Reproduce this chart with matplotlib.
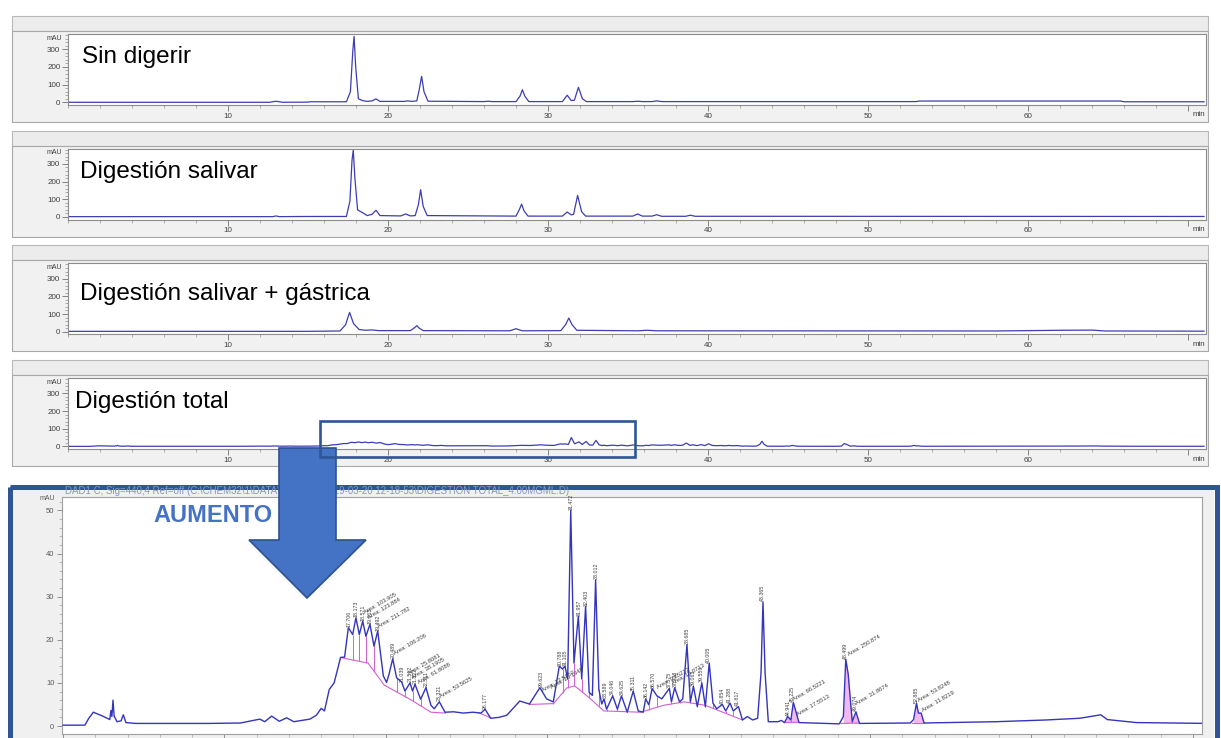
import numpy as np
import matplotlib
matplotlib.use('Agg')
import matplotlib.pyplot as plt
from matplotlib.patches import Rectangle, Polygon
from matplotlib.ticker import MultipleLocator, FixedLocator

plt.rcParams['font.family'] = ['Liberation Sans', 'DejaVu Sans']

# Cromatogramas (tiempo en min, señal en mAU)
sin_t = [0.0, 12.6, 13.0, 13.4, 15.0, 15.1, 17.4, 17.65, 17.8, 17.88,
         17.98, 18.15, 18.4, 18.7, 19.0, 19.25, 19.5, 21.0, 21.25, 21.5,
         21.8, 21.95, 22.1, 22.25, 22.5, 26.0, 26.25, 26.5, 28.0, 28.25,
         28.4, 28.55, 28.8, 30.9, 31.2, 31.45, 31.65, 31.9, 32.15, 32.4,
         35.3, 35.6, 35.9, 36.5, 36.8, 37.1, 53.0, 53.2, 65.8, 66.0,
         71.0]
sin_v = [0, 0, 6, 0, 1, 3, 3, 60, 290, 373,
         200, 20, 10, 5, 8, 19, 5, 5, 8, 5,
         8, 70, 147, 60, 6, 4, 6, 4, 4, 35,
         71, 35, 4, 4, 40, 10, 12, 85, 20, 4,
         4, 6, 4, 4, 8, 4, 4, 7, 7, 3,
         3]

sal_t = [0.0, 12.8, 13.0, 13.2, 15.0, 17.4, 17.62, 17.75, 17.83, 17.93,
         18.1, 18.4, 18.7, 19.0, 19.25, 19.5, 20.8, 21.1, 21.4, 21.7,
         21.9, 22.04, 22.2, 22.45, 28.0, 28.2, 28.35, 28.5, 28.75, 30.9,
         31.2, 31.45, 31.6, 31.85, 32.1, 32.35, 35.3, 35.6, 35.9, 36.5,
         36.8, 37.1, 38.6, 38.9, 39.2, 71.0]
sal_v = [2, 2, 6, 2, 3, 3, 90, 320, 378, 220,
         40, 25, 8, 15, 38, 8, 6, 17, 6, 8,
         70, 154, 60, 8, 5, 40, 73, 35, 5, 5,
         28, 12, 15, 122, 30, 5, 5, 17, 5, 5,
         13, 4, 4, 10, 4, 3]

gas_t = [0.0, 15.0, 17.0, 17.35, 17.6, 17.85, 18.2, 18.6, 19.0, 19.4,
         21.4, 21.65, 21.8, 21.95, 22.2, 27.6, 27.85, 28.0, 28.15, 28.4,
         30.8, 31.1, 31.3, 31.5, 31.8, 35.6, 36.2, 36.8, 58.0, 60.0,
         62.0, 64.0, 64.8, 71.0]
gas_v = [2, 2, 4, 40, 109, 45, 12, 8, 10, 6,
         6, 22, 34, 20, 6, 5, 12, 17, 12, 5,
         6, 40, 77, 40, 8, 5, 8, 5, 4, 6,
         8, 9, 4, 3]

tot_t = [0.0, 1.36, 1.6, 1.88, 2.4, 2.9, 2.97, 3.03, 3.1, 3.17,
         3.35, 3.6, 3.74, 3.9, 4.5, 9.0, 11.0, 12.2, 12.5, 12.93,
         13.4, 13.86, 14.3, 15.3, 15.7, 16.0, 16.2, 16.5, 16.8, 17.2,
         17.45, 17.68, 17.95, 18.15, 18.36, 18.57, 18.77, 19.02, 19.27, 19.5,
         19.85, 20.05, 20.2, 20.43, 20.67, 20.98, 21.19, 21.5, 21.66, 21.81,
         22.16, 22.49, 22.8, 23.0, 23.32, 23.67, 24.2, 24.8, 25.4, 25.9,
         26.15, 26.5, 27.0, 27.5, 28.3, 28.9, 29.55, 29.96, 30.38, 30.75,
         30.95, 31.1, 31.27, 31.46, 31.66, 31.93, 32.14, 32.38, 32.6, 32.8,
         33.0, 33.2, 33.38, 33.52, 33.68, 34.06, 34.35, 34.6, 34.96, 35.33,
         35.64, 35.95, 36.1, 36.3, 36.5, 36.8, 37.1, 37.57, 37.7, 37.9,
         38.2, 38.4, 38.66, 38.87, 39.06, 39.3, 39.58, 39.8, 40.04, 40.27,
         40.5, 40.85, 41.06, 41.33, 41.53, 41.85, 42.1, 42.4, 42.73, 43.04,
         43.25, 43.37, 43.5, 43.7, 44.3, 44.5, 44.7, 44.9, 45.1, 45.25,
         45.5, 45.6, 48.1, 48.35, 48.5, 48.65, 48.9, 49.13, 49.35, 52.5,
         52.7, 52.88, 53.0, 53.17, 53.35, 57.8, 60.9, 63.0, 64.3, 64.7,
         66.5, 71.0]
tot_v = [0.2, 0.2, 1.8, 3.2, 2.4, 1.5, 3.6, 2.2, 6.0, 2.3,
         1.0, 1.2, 2.6, 0.8, 0.6, 0.6, 0.7, 1.6, 1.0, 2.3,
         1.1, 1.9, 1.0, 1.6, 2.5, 4.1, 3.5, 8.5, 10.0, 15.9,
         16.0, 22.8, 21.2, 25.1, 21.2, 24.3, 20.8, 23.6, 18.5, 22.0,
         11.6, 10.1, 12.0, 15.6, 11.2, 10.2, 8.1, 10.0, 8.1, 9.7,
         6.2, 8.9, 4.8, 4.0, 5.6, 3.2, 3.3, 3.0, 3.2, 3.0,
         3.9, 1.8, 2.0, 2.5, 5.8, 5.1, 8.9, 6.3, 5.6, 13.9,
         13.2, 13.9, 10.9, 50.1, 14.6, 25.5, 10.9, 27.8, 7.8, 7.1,
         33.9, 8.5, 5.1, 6.3, 3.9, 7.0, 3.9, 7.0, 3.2, 8.1,
         3.5, 3.2, 6.3, 4.9, 8.7, 7.0, 6.3, 8.7, 5.6, 8.9,
         5.6, 6.3, 18.9, 5.6, 9.2, 4.5, 10.0, 4.5, 14.6, 5.3,
         4.0, 5.0, 3.5, 5.3, 3.5, 4.5, 1.4, 2.2, 1.4, 1.8,
         12.4, 28.8, 12.4, 1.0, 1.0, 1.3, 0.8, 2.2, 1.4, 5.5,
         2.2, 0.8, 0.5, 2.2, 15.5, 12.0, 1.0, 3.3, 0.6, 0.7,
         1.5, 5.3, 3.0, 3.0, 0.7, 1.0, 1.4, 1.8, 2.6, 1.5,
         0.8, 0.6]

nombres = ['Sin digerir', 'Digestión salivar', 'Digestión salivar + gástrica', 'Digestión total']

# lineas base de integracion (magenta)
base_t = [[17.3, 18.9, 19.9, 21.5, 22.8, 23.7],
          [25.8, 26.5],
          [28.9, 30.4, 31.2, 31.7, 32.6, 33.5, 35.8, 37.2, 38.5, 39.8, 42.1],
          [44.7, 45.6],
          [48.2, 49.35],
          [52.6, 53.35]]
base_v = [[15.8, 14.6, 9.5, 6.2, 3.2, 3.0],
          [3.0, 1.9],
          [5.0, 5.2, 8.8, 9.3, 6.6, 3.5, 3.2, 4.8, 5.6, 4.8, 1.4],
          [0.8, 0.9],
          [0.6, 0.7],
          [0.7, 0.7]]
valles = [17.95, 18.36, 18.77, 19.27, 20.67, 21.19, 21.66, 22.16,
          30.38, 30.95, 31.27, 31.66, 32.14, 32.6, 33.2, 33.68, 34.35,
          34.96, 35.64, 36.3, 36.8, 37.7, 38.2, 38.87, 39.3, 39.8, 40.27,
          41.06, 41.53, 45.1, 48.9]

tiempos_ret = [17.706, 18.173, 18.571, 19.013, 19.492, 20.489, 21.039, 21.512,
               21.822, 22.511, 23.321, 26.177, 29.623, 30.788, 31.105, 31.472,
               31.957, 32.403, 33.012, 33.589, 34.046, 34.625, 35.311, 36.142,
               36.570, 37.575, 37.938, 38.685, 39.063, 39.550, 40.005, 40.854,
               41.288, 41.817, 43.365, 44.941, 45.225, 48.499, 49.074, 52.885]

areas_txt = ['Area: 103.905', 'Area: 123.884', 'Area: 211.782', 'Area: 106.206',
             'Area: 25.8081', 'Area: 38.1905', 'Area: 61.8088', 'Area: 53.5625',
             'Area: 12.5157', 'Area: 20.1948', 'Area: 9.85213', 'Area: 15.0713',
             'Area: 66.5221', 'Area: 17.5513', 'Area: 250.874', 'Area: 31.8674',
             'Area: 53.8248', 'Area: 11.8219']
areas_t = [18.75, 19.0, 19.6, 20.6, 21.5, 21.7, 22.1, 23.45, 29.8, 30.3,
           36.9, 37.8, 45.35, 45.55, 48.7, 49.25, 53.05, 53.3]
areas_v = [25.8, 24.6, 22.6, 16.2, 11.6, 10.6, 9.6, 6.2, 7.6, 8.4,
           8.4, 9.4, 5.6, 2.2, 16.0, 4.6, 5.4, 3.0]

W, H = 1221, 738
fig = plt.figure(figsize=(W / 100, H / 100), dpi=100)


def caja(x0, y0, x1, y1):
    # pixeles (origen arriba a la izquierda) -> fraccion de figura
    return [x0 / W, 1 - y1 / H, (x1 - x0) / W, (y1 - y0) / H]


fondo = fig.add_axes([0, 0, 1, 1], zorder=0)
fondo.set_xlim(0, W)
fondo.set_ylim(H, 0)
fondo.axis('off')

frente = fig.add_axes([0, 0, 1, 1], zorder=10)
frente.set_xlim(0, W)
frente.set_ylim(H, 0)
frente.axis('off')

linea = '#3d3db3'
pos_nombre = [(82, 63), (80, 178), (80, 300), (75, 408)]
datos = [(sin_t, sin_v), (sal_t, sal_v), (gas_t, gas_v), (tot_t, tot_v)]
ejes = []

#####################################
# cuatro cromatogramas superiores
#####################################
for i, (t, v) in enumerate(datos):
    yb = 105 + 114.7 * i
    yt = yb - 71
    fondo.add_patch(Rectangle((12, yt - 18), 1196, 15, fc='#ececec', ec='#b8b8b8', lw=0.8))
    fondo.add_patch(Rectangle((12, yt - 3), 1196, 91, fc='#f1f1f1', ec='#a8a8a8', lw=0.8))

    ax = fig.add_axes(caja(68, yt, 1206, yb), zorder=2)
    ax.plot(t, v, color=linea, lw=0.9)
    ax.set_xlim(0, 71.125)
    ax.set_ylim(-15.3, 386)
    for s in ax.spines.values():
        s.set_color('#8c8c8c')
        s.set_linewidth(0.8)
    ax.xaxis.set_major_locator(FixedLocator([10, 20, 30, 40, 50, 60, 70]))
    ax.set_xticklabels(['10', '20', '30', '40', '50', '60', ''])
    ax.xaxis.set_minor_locator(MultipleLocator(2))
    ax.yaxis.set_major_locator(FixedLocator([0, 100, 200, 300]))
    ax.yaxis.set_minor_locator(MultipleLocator(20))
    ax.tick_params(which='major', direction='out', length=4, width=0.6, color='#707070',
                   labelsize=5.8, labelcolor='#404040', pad=1.5)
    ax.tick_params(which='minor', direction='out', length=2, width=0.5, color='#909090')
    frente.text(62, yt + 4, 'mAU', fontsize=5, color='#404040', ha='right', va='center')
    frente.text(1199, yb + 10, 'min', fontsize=5.8, color='#404040', ha='center', va='center')
    frente.text(pos_nombre[i][0], pos_nombre[i][1], nombres[i], fontsize=17.5,
                color='black', ha='left', va='baseline')
    ejes.append(ax)

###############################
# panel ampliado (digestion total)
###############################
fondo.add_patch(Rectangle((12, 489), 1202, 260, fc='#f0f0f0', ec='none'))
fondo.add_patch(Rectangle((9.5, 486.5), 1207.5, 262, fill=False, ec='#2f5597', lw=3.6))
fondo.text(65, 491,
           r'DAD1 C, Sig=440,4 Ref=off (C:\CHEM32\1\DATA\...PEROL 2019-03-20 12-18-53\DIGESTION TOTAL_4.00MGML.D)',
           fontsize=7, color='#8796c4', ha='left', va='center')

axb = fig.add_axes(caja(62, 497, 1202, 734), zorder=2)
axb.plot(tot_t, tot_v, color='#3434bc', lw=1.0, zorder=3)
axb.set_xlim(-0.06, 70.57)
axb.set_ylim(-1.85, 53.1)
for s in axb.spines.values():
    s.set_color('#a0a0a0')
    s.set_linewidth(0.8)
axb.xaxis.set_major_locator(MultipleLocator(10))
axb.xaxis.set_minor_locator(MultipleLocator(2))
axb.yaxis.set_major_locator(MultipleLocator(10))
axb.yaxis.set_minor_locator(MultipleLocator(2))
axb.tick_params(axis='x', which='both', labelbottom=False)
axb.tick_params(which='major', direction='out', length=3.5, width=0.6, color='#808080',
                labelsize=5.5, labelcolor='#5a5a5a', pad=2)
axb.tick_params(which='minor', direction='out', length=2, width=0.5, color='#a0a0a0')
frente.text(55, 499, 'mAU', fontsize=5, color='#5a5a5a', ha='right', va='center')

# lineas base y caidas
for bt, bv in zip(base_t, base_v):
    axb.plot(bt, bv, color='#d45fd4', lw=0.8, zorder=2)
for vt in valles:
    for bt, bv in zip(base_t, base_v):
        if bt[0] <= vt <= bt[-1]:
            axb.vlines(vt, np.interp(vt, bt, bv), np.interp(vt, tot_t, tot_v),
                       color='#d45fd4', lw=0.7, zorder=2)

tt = np.array(tot_t)
vv = np.array(tot_v)
for bt, bv in zip(base_t[3:], base_v[3:]):
    m = (tt >= bt[0]) & (tt <= bt[-1])
    axb.fill_between(tt[m], vv[m], np.interp(tt[m], bt, bv), color='#f2b8f2', lw=0, zorder=1)

# etiquetas de tiempos de retencion
for rt in tiempos_ret:
    m = np.abs(tt - rt) < 0.12
    ytop = vv[m].max() if m.any() else np.interp(rt, tt, vv)
    axb.text(rt, ytop + 0.1, f'{rt:.3f}', rotation=90, fontsize=3.8, color='#404040',
             ha='center', va='bottom', zorder=4)
for txt, at, av in zip(areas_txt, areas_t, areas_v):
    axb.text(at, av, txt, rotation=30, rotation_mode='anchor', fontsize=4.2,
             color='#404040', ha='left', va='bottom', zorder=4)

# flecha y rectangulo de aumento
flecha = Polygon([(279, 448), (336, 448), (336, 540), (366, 540), (307, 598),
                  (249, 540), (279, 540)], closed=True, fc='#4472c4', ec='#2f528f', lw=1.2)
frente.add_patch(flecha)
frente.add_patch(Rectangle((15.75, -60), 19.7, 200.7, transform=ejes[3].transData,
                           fill=False, ec='#2f5597', lw=1.9))
frente.text(213, 515, 'AUMENTO', fontsize=17, fontweight='bold', color='#4472c4',
            ha='center', va='center')

fig.savefig('out.png', dpi=100)
